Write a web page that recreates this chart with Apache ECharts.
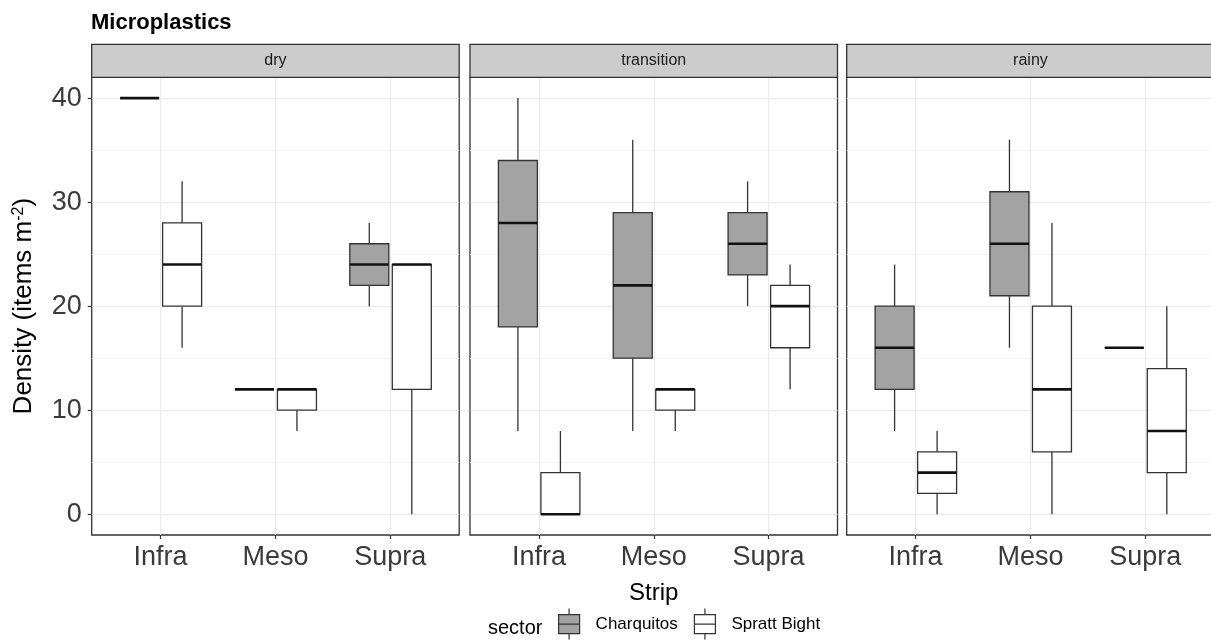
<!DOCTYPE html>
<html><head><meta charset="utf-8">
<script src="https://cdn.jsdelivr.net/npm/echarts@6.0.0/dist/echarts.min.js"></script>
<style>html,body{margin:0;padding:0;background:#fff}#c{width:1211px;height:640px}</style>
</head><body><div id="c"></div>
<script>
// ---- data ----
const categories = ['Infra', 'Meso', 'Supra'];
const seasons = ['dry', 'transition', 'rainy'];
const sectors = ['Charquitos', 'Spratt Bight'];
const yTicks = [0, 10, 20, 30, 40];
// each entry: [min, Q1, median, Q3, max] for Infra, Meso, Supra
const dryCharquitos = [[40, 40, 40, 40, 40], [12, 12, 12, 12, 12], [20, 22, 24, 26, 28]];
const drySpratt = [[16, 20, 24, 28, 32], [8, 10, 12, 12, 12], [0, 12, 24, 24, 24]];
const transitionCharquitos = [[8, 18, 28, 34, 40], [8, 15, 22, 29, 36], [20, 23, 26, 29, 32]];
const transitionSpratt = [[0, 0, 0, 4, 8], [8, 10, 12, 12, 12], [12, 16, 20, 22, 24]];
const rainyCharquitos = [[8, 12, 16, 20, 24], [16, 21, 26, 31, 36], [16, 16, 16, 16, 16]];
const rainySpratt = [[0, 2, 4, 6, 8], [0, 6, 12, 20, 28], [0, 4, 8, 14, 20]];
const seasonData = [
  [dryCharquitos, drySpratt],
  [transitionCharquitos, transitionSpratt],
  [rainyCharquitos, rainySpratt]
];

// ---- layout / style ----
const FONT = '"Liberation Sans", Arial, Helvetica, sans-serif';
const panelLeft = [91.7, 470, 846.7];
const panelW = 367.5, panelTop = 77.3, panelH = 457.7;
const unit = panelW / 3.2;
const stripTop = 44.3, stripH = 33;
const fills = ['#a3a3a3', '#ffffff'];
const dodge = [-21, 21.5];
const boxW = 39;
const gridColor = '#ebebeb';
const inkColor = '#333333';
const labelColor = '#3a3a3a';

const chart = echarts.init(document.getElementById('c'), null, { renderer: 'canvas' });

function makeRender(s) {
  return function (params, api) {
    const k = api.value(0);
    const x = api.coord([k, 0])[0] + dodge[s];
    const yv = (d) => api.coord([k, api.value(d)])[1];
    const yMin = yv(1), yQ1 = yv(2), yMed = yv(3), yQ3 = yv(4), yMax = yv(5);
    const hw = boxW / 2;
    const line = { stroke: inkColor, lineWidth: 1.3 };
    return {
      type: 'group',
      children: [
        { type: 'line', shape: { x1: x, y1: yQ3, x2: x, y2: yMax }, style: line },
        { type: 'line', shape: { x1: x, y1: yQ1, x2: x, y2: yMin }, style: line },
        { type: 'rect', shape: { x: x - hw, y: yQ3, width: boxW, height: yQ1 - yQ3 },
          style: { fill: fills[s], stroke: inkColor, lineWidth: 1.3 } },
        { type: 'line', shape: { x1: x - hw, y1: yMed, x2: x + hw, y2: yMed },
          style: { stroke: '#111111', lineWidth: 2.6 } }
      ]
    };
  };
}

const grids = [], xAxes = [], yAxes = [], series = [], graphics = [];
seasons.forEach(function (season, i) {
  const L = panelLeft[i];
  // frame grid
  grids.push({ left: L, top: panelTop, width: panelW, height: panelH, show: true,
    backgroundColor: '#ffffff', borderColor: inkColor, borderWidth: 1.3, outerBoundsMode: 'none', containLabel: false });
  // inner grid: from first to last category centre
  grids.push({ left: L + 0.6 * unit, top: panelTop, width: 2 * unit, height: panelH, show: false,
    outerBoundsMode: 'none', containLabel: false });
  xAxes.push({ type: 'value', gridIndex: 2 * i, min: 0, max: 1, show: false });
  const inner = {
    type: 'category', gridIndex: 2 * i + 1, data: categories, boundaryGap: false, position: 'bottom',
    axisLine: { show: false, onZero: false },
    axisTick: { show: true, length: 4, lineStyle: { color: inkColor, width: 1.2 } },
    axisLabel: { show: true, interval: 0, fontSize: 27, color: labelColor, margin: 9, fontFamily: FONT },
    splitLine: { show: true, lineStyle: { color: gridColor, width: 1.1 } }
  };
  if (i === 1) {
    inner.name = 'Strip';
    inner.nameLocation = 'middle';
    inner.nameGap = 46;
    inner.nameTextStyle = { fontSize: 24, color: '#000', fontFamily: FONT };
  }
  xAxes.push(inner);
  const frameY = {
    type: 'value', gridIndex: 2 * i, min: -2, max: 42,
    axisLine: { show: false, onZero: false },
    axisTick: { show: i === 0, length: 4, customValues: yTicks, lineStyle: { color: inkColor, width: 1.2 } },
    axisLabel: { show: i === 0, customValues: yTicks, fontSize: 27, color: labelColor, margin: 10,
      fontFamily: FONT },
    splitLine: { show: true, lineStyle: { color: gridColor, width: 1.1 } },
    minorTick: { show: false, splitNumber: 2 },
    minorSplitLine: { show: true, lineStyle: { color: '#f0f0f0', width: 0.8 } }
  };
  if (i === 0) {
    frameY.name = 'Density (items m{sup|-2})';
    frameY.nameLocation = 'middle';
    frameY.nameGap = 55;
    frameY.nameTextStyle = { fontSize: 26, color: '#000', fontFamily: FONT,
      rich: { sup: { fontSize: 16, verticalAlign: 'top', fontFamily: FONT, color: '#000' } } };
  }
  yAxes.push(frameY);
  yAxes.push({ type: 'value', gridIndex: 2 * i + 1, min: -2, max: 42, show: false });

  sectors.forEach(function (sector, s) {
    series.push({
      type: 'custom', name: sector,
      xAxisIndex: 2 * i + 1, yAxisIndex: 2 * i + 1,
      data: seasonData[i][s].map((v, k) => [k].concat(v)),
      encode: { x: 0, y: [1, 2, 3, 4, 5] },
      renderItem: makeRender(s),
      itemStyle: { color: fills[s], borderColor: inkColor, borderWidth: 1.2 },
      clip: false, z: 5
    });
  });

  graphics.push({ type: 'rect', z: 10,
    shape: { x: L, y: stripTop, width: panelW, height: stripH },
    style: { fill: '#cccccc', stroke: inkColor, lineWidth: 1.3 } });
  graphics.push({ type: 'text', z: 11, x: L + panelW / 2, y: stripTop + stripH / 2,
    style: { text: season, fontSize: 16, fontFamily: FONT, fill: '#1a1a1a', align: 'center', verticalAlign: 'middle' } });
});

graphics.push({ type: 'text', x: 488, y: 628,
  style: { text: 'sector', fontSize: 20, fontFamily: FONT, fill: '#000', align: 'left', verticalAlign: 'middle' } });

chart.setOption({
  animation: false,
  backgroundColor: '#ffffff',
  title: { text: 'Microplastics', left: 91, top: 12, padding: 0,
    textStyle: { fontSize: 22, fontWeight: 'bold', color: '#000', fontFamily: FONT } },
  legend: {
    data: sectors, left: 558, top: 608, padding: 0, orient: 'horizontal',
    itemWidth: 21, itemHeight: 31, itemGap: 16, selectedMode: false,
    icon: 'path://M10.5,0V6M0,6H21V25H0ZM0,15.5H21M10.5,25V31',
    itemStyle: { borderColor: inkColor, borderWidth: 1.2 },
    textStyle: { fontSize: 17, color: '#000', fontFamily: FONT, padding: [0, 0, 0, 11] }
  },
  grid: grids,
  xAxis: xAxes,
  yAxis: yAxes,
  series: series,
  graphic: graphics
});
</script>
</body></html>
